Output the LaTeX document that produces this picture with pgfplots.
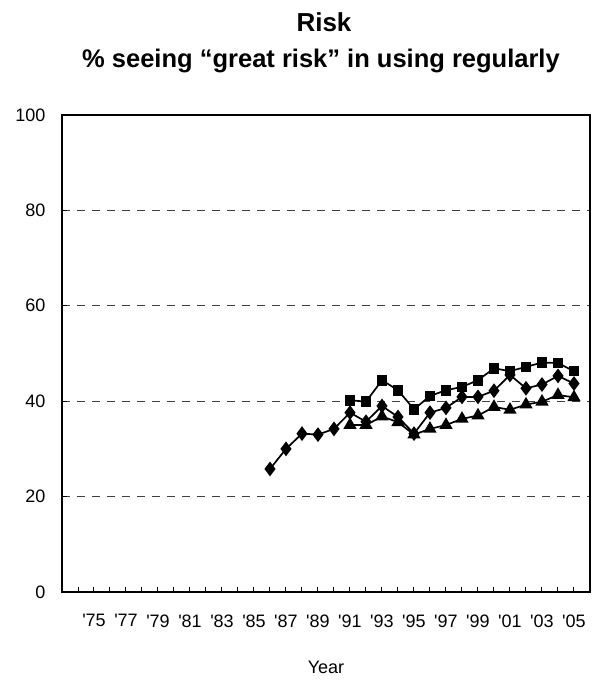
\documentclass[border=0pt]{standalone}
\usepackage{fontspec}
\setmainfont{Liberation Sans}
\usepackage{pgfplots}
\pgfplotsset{compat=1.18}
\newcommand{\ap}{\textquotesingle}
\begin{document}
\begin{tikzpicture}[x=1pt,y=1pt]
\useasboundingbox (0,0) rectangle (595,686);
\node[font=\bfseries\fontsize{26}{30}\selectfont, anchor=base] at (324,654) {Risk};
\node[font=\bfseries\fontsize{25.5}{28}\selectfont, anchor=base] at (321,618) {\% seeing “great risk” in using regularly};
\begin{axis}[
  at={(62pt,94pt)}, anchor=south west,
  scale only axis, width=528pt, height=477pt,
  xmin=1973, xmax=2006, ymin=0, ymax=100,
  xtick={1974,...,2005},
  xticklabels={,\ap75,,\ap77,,\ap79,,\ap81,,\ap83,,\ap85,,\ap87,,\ap89,,\ap91,,\ap93,,\ap95,,\ap97,,\ap99,,\ap01,,\ap03,,\ap05},
  ytick={0,20,40,60,80,100},
  xtick pos=bottom, ytick pos=left,
  tick align=inside, major tick length=5pt,
  tick style={black, line width=1pt},
  axis line style={line width=1.6pt},
  ymajorgrids,
  grid style={black!75, line width=0.8pt, dash pattern=on 8pt off 7pt},
  /pgf/number format/assume math mode=true,
  ticklabel style={font=\fontsize{18}{20}\selectfont},
  xticklabel style={yshift=-19pt},
  yticklabel style={xshift=-13pt},
  xlabel={Year},
  xlabel style={font=\fontsize{18}{20}\selectfont, at={(axis description cs:0.5,0)}, anchor=center, yshift=-75pt},
  every axis plot/.append style={black, line width=1.7pt, mark options={solid, fill=black}},
]
% Diamonds
\addplot[mark=diamond*, mark size=6pt] coordinates {
(1986,25.8) (1987,30.0) (1988,33.2) (1989,33.0) (1990,34.2) (1991,37.6) (1992,35.7)
(1993,39.0) (1994,36.7) (1995,33.2) (1996,37.6) (1997,38.6) (1998,40.9) (1999,40.9)
(2000,42.2) (2001,45.5) (2002,42.7) (2003,43.5) (2004,45.3) (2005,43.7)};
% Squares
\addplot[mark=square*, mark size=4.5pt] coordinates {
(1991,40.2) (1992,39.9) (1993,44.4) (1994,42.3) (1995,38.3) (1996,41.1) (1997,42.3)
(1998,43.0) (1999,44.4) (2000,46.9) (2001,46.3) (2002,47.2) (2003,48.1) (2004,48.0) (2005,46.3)};
% Triangles
\addplot[mark=triangle*, mark size=6pt] coordinates {
(1991,35.0) (1992,35.0) (1993,36.8) (1994,35.6) (1995,33.0) (1996,34.2) (1997,35.0)
(1998,36.3) (1999,37.0) (2000,38.8) (2001,38.2) (2002,39.3) (2003,39.9) (2004,41.3) (2005,40.8)};
\end{axis}
\end{tikzpicture}
\end{document}
